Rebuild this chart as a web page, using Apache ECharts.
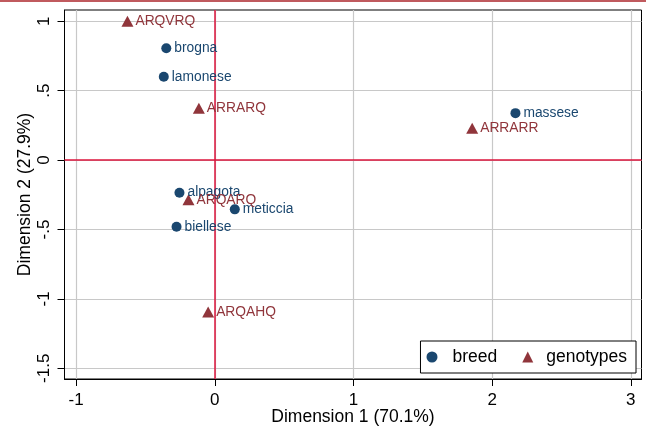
<!DOCTYPE html>
<html>
<head>
<meta charset="utf-8">
<script src="https://cdn.jsdelivr.net/npm/echarts@6/dist/echarts.min.js"></script>
<style>html,body{margin:0;padding:0;background:#fff}#c{width:646px;height:428px}</style>
</head>
<body>
<div id="c"></div>
<script>
// Data
const breedNames = ['brogna', 'lamonese', 'alpagota', 'biellese', 'meticcia', 'massese'];
const breedX = [-0.35, -0.368, -0.255, -0.276, 0.144, 2.168];
const breedY = [0.806, 0.60, -0.235, -0.48, -0.355, 0.338];
const genoNames = ['ARQVRQ', 'ARRARQ', 'ARRARR', 'ARQARQ', 'ARQAHQ'];
const genoX = [-0.63, -0.115, 1.856, -0.19, -0.048];
const genoY = [1.0, 0.374, 0.23, -0.286, -1.094];
const xTicks = [-1, 0, 1, 2, 3];
const yTicks = [-1.5, -1, -0.5, 0, 0.5, 1];
const xTitle = 'Dimension 1 (70.1%)';
const yTitle = 'Dimension 2 (27.9%)';
const legendNames = ['breed', 'genotypes'];

const FONT = '"Liberation Sans", Arial, sans-serif';
const fmtY = v => {
  let s = String(Math.abs(v));
  if (s.startsWith('0.')) s = s.slice(1);
  return (v < 0 ? '-' : '') + s;
};
const mk = (names, xs, ys) => names.map((n, i) => ({ name: n, value: [xs[i], ys[i]] }));

const chart = echarts.init(document.getElementById('c'), null, { renderer: 'canvas' });
chart.setOption({
  animation: false,
  backgroundColor: '#fff',
  textStyle: { fontFamily: FONT },
  graphic: [{ type: 'rect', shape: { x: 0, y: 0, width: 646, height: 2 }, style: { fill: '#c05a5e' }, silent: true }],
  grid: { left: 64.5, right: 4.5, top: 10, bottom: 49, outerBoundsMode: 'none', containLabel: false, show: true, borderColor: '#000', borderWidth: 1, backgroundColor: 'transparent' },
  xAxis: {
    type: 'value', min: -1.084, max: 3.077,
    name: xTitle, nameLocation: 'middle', nameGap: 29, nameMoveOverlap: false,
    nameTextStyle: { fontSize: 17.5, color: '#000', fontFamily: FONT },
    axisLine: { show: true, onZero: false, lineStyle: { color: '#000', width: 1 } },
    axisTick: { show: true, length: 7, customValues: xTicks, lineStyle: { color: '#000' } },
    axisLabel: { customValues: xTicks, fontSize: 17, color: '#000', margin: 13, fontFamily: FONT, formatter: v => String(v) },
    splitLine: { show: true, lineStyle: { color: '#c8c8c8', width: 1.2 } }
  },
  yAxis: {
    type: 'value', min: -1.577, max: 1.081,
    name: yTitle, nameLocation: 'middle', nameGap: 30, nameRotate: 90, nameMoveOverlap: false,
    nameTextStyle: { fontSize: 17.5, color: '#000', fontFamily: FONT },
    axisLine: { show: true, onZero: false, lineStyle: { color: '#000', width: 1 } },
    axisTick: { show: true, length: 7, customValues: yTicks, lineStyle: { color: '#000' } },
    axisLabel: { customValues: yTicks, fontSize: 17, color: '#000', margin: 12, rotate: 90, fontFamily: FONT, formatter: fmtY },
    splitLine: { show: true, lineStyle: { color: '#c8c8c8', width: 1.2 } }
  },
  legend: {
    right: 10, top: 341, orient: 'horizontal',
    padding: [7, 9, 7, 6], itemGap: 25, itemWidth: 11, itemHeight: 11,
    borderColor: '#000', borderWidth: 1, backgroundColor: '#fff', borderRadius: 0,
    textStyle: { fontSize: 17.5, color: '#000', fontFamily: FONT },
    data: [
      { name: legendNames[0], icon: 'circle', textStyle: { padding: [0, 0, 0, 10] } },
      { name: legendNames[1], icon: 'triangle', textStyle: { padding: [0, 0, 0, 8] } }
    ]
  },
  series: [
    {
      name: legendNames[0], type: 'scatter', symbol: 'circle', symbolSize: 10, z: 5,
      itemStyle: { color: '#1a476f', opacity: 1 },
      label: { show: true, position: 'right', distance: 3, formatter: '{b}', fontSize: 13.8, color: '#1a476f', fontFamily: FONT },
      data: mk(breedNames, breedX, breedY),
      markLine: {
        silent: true, symbol: 'none', label: { show: false },
        lineStyle: { color: '#dc143c', width: 1.5, type: 'solid' },
        data: [{ xAxis: 0 }, { yAxis: 0 }]
      }
    },
    {
      name: legendNames[1], type: 'scatter', symbol: 'triangle', symbolSize: [12, 11], z: 5,
      itemStyle: { color: '#90353b', opacity: 1 },
      label: { show: true, position: 'right', distance: 2, formatter: '{b}', fontSize: 13.8, color: '#90353b', fontFamily: FONT },
      data: mk(genoNames, genoX, genoY)
    }
  ]
});
</script>
</body>
</html>
